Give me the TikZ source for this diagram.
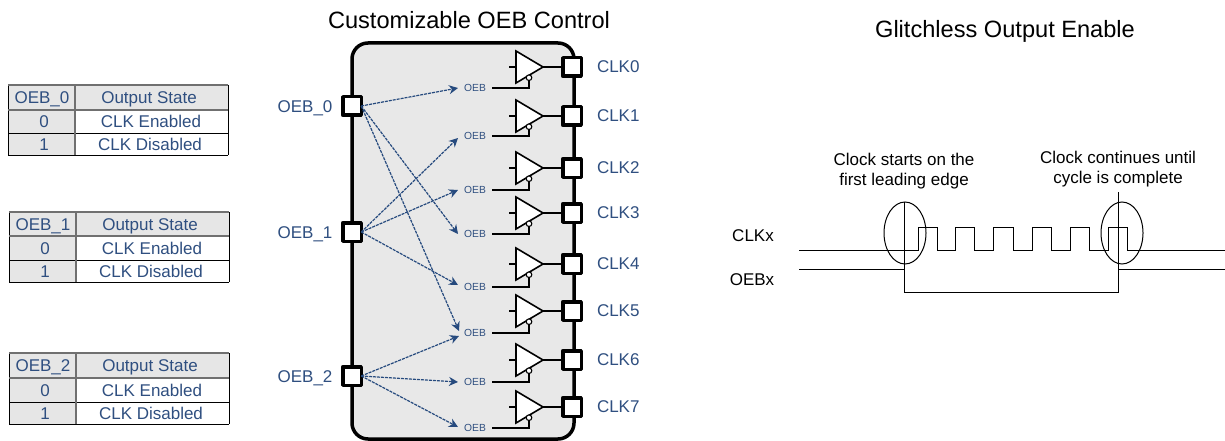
\documentclass[tikz,border=0pt]{standalone}
\usepackage{fontspec}
\setmainfont{Liberation Sans}
\usetikzlibrary{arrows.meta,calc}
\definecolor{txtblue}{HTML}{2F4F80}
\definecolor{arrblue}{HTML}{264A7E}
\definecolor{panel}{HTML}{E8E8E8}
\definecolor{tabgray}{HTML}{E6E6E6}
\definecolor{gridgray}{HTML}{707070}
\newcommand{\fs}[1]{\fontsize{#1}{#1}\selectfont}
\tikzset{
 x=1pt,y=-1pt,
 every node/.style={inner sep=0pt,outer sep=0pt,font=\fs{17}},
 pinbox/.style={draw=black,fill=white,line width=3.5pt,minimum size=18.5pt,line join=round},
 pinlabel/.style={text=txtblue,font=\fs{17},text height=12.2pt,text depth=0pt},
 oeblabel/.style={text=txtblue,font=\fs{10.3},minimum width=34pt,minimum height=10pt,text height=7.4pt,text depth=0pt},
 link/.style={draw=arrblue,line width=1.2pt,dash pattern=on 3pt off 1pt,-{Stealth[length=9pt,width=9pt]}},
 buffer/.style={draw=black,fill=white,line width=1.6pt,line join=miter},
 wire/.style={draw=black,line width=1.3pt},
 thickwire/.style={draw=black,line width=1.6pt},
 cell/.style={text=txtblue,font=\fs{17},anchor=center,text height=12.2pt,text depth=0pt},
 title/.style={text=black,font=\fs{23.6}},
 note/.style={text=black,font=\fs{17},align=center},
 sig/.style={draw=black,line width=1pt},
 loop/.style={draw=black,line width=1pt},
}
\begin{document}
\begin{tikzpicture}
\useasboundingbox (0,0) rectangle (1225,441);
\fill[white] (0,0) rectangle (1225,441);
% titles
\node[title] (t1) at (469,20) {Customizable OEB Control};
\node[title] (t2) at (1005,31) {Glitchless Output Enable};
% tables
\foreach \n/\o/\a/\b/\c/\d in {0/0/85/110/133/155, 1/1/212/236/260/282, 2/1/353/378/402/424}{
 \begin{scope}[xshift=\o pt]
  \fill[tabgray] (8,\a) rectangle (228,\b);
  \fill[tabgray] (8,\b) rectangle (75,\d);
  \draw[black,line width=0.9pt] (8,\c) -- (228,\c);
  \draw[black,line width=0.9pt] (8,\d) -- (228,\d);
  \draw[black,line width=0.9pt] (8,\a) -- (8,\d);
  \draw[black,line width=0.9pt] (228,\a) -- (228,\d);
  \draw[gridgray,line width=1.2pt] (8,\a) -- (228,\a);
  \draw[gridgray,line width=1.2pt] (8,\b) -- (228,\b);
  \draw[gridgray,line width=1.2pt] (75,\a) -- (75,\d);
  \node[cell] (h\n a) at (42,{(\a+\b)/2}) {OEB\_\n};
  \node[cell] (h\n b) at (149,{(\a+\b)/2}) {Output State};
  \node[cell] (r\n a) at (44,{(\b+\c)/2}) {0};
  \node[cell] (r\n b) at (151,{(\b+\c)/2}) {CLK Enabled};
  \node[cell] (s\n a) at (44,{(\c+\d)/2}) {1};
  \node[cell] (s\n b) at (150,{(\c+\d)/2}) {CLK Disabled};
 \end{scope}
}
% panel
\draw[line width=3.5pt,fill=panel,rounded corners=16pt] (352,43) rectangle (574,439);
% input labels and pins
\foreach \n/\y in {0/106,1/232,2/376}{
  \node[pinbox] (in\n) at (352,\y) {};
  \node[pinlabel] (inl\n) at (305,\y) {OEB\_\n};
}
% buffers
\foreach \n/\y/\e in {0/67/88,1/116/136,2/168/190,3/213/234,4/264/287,5/311/333,6/360/382,7/407/428}{
  \node[pinbox] (clk\n) at (572,\y) {};
  \node[pinlabel,anchor=west] (clkl\n) at (597,\y-0.5) {CLK\n};
  \node[oeblabel] (oeb\n) at (475,\e) {OEB};
  \coordinate (tip\n) at (543,\y);
  \coordinate (inp\n) at (509,\y);
  \coordinate (en\n) at (529,\y+13);
  \draw[wire] (tip\n) -- (clk\n.west);
  \draw[wire] (inp\n) -- (516,\y);
  \draw[thickwire] (oeb\n.east) -| (en\n);
  \draw[buffer] (516,\y-16) -- (tip\n) -- (516,\y+16) -- cycle;
  \draw[black,fill=white,line width=1.1pt] (529,\y+10.7) circle[radius=2.8];
}
% links
\draw[link] (in0.east) -- (oeb0.west);
\draw[link] (in0.east) -- (oeb3.west);
\draw[link] (in0.east) -- ($(oeb5.west)+(1,-2)$);
\draw[link] (in1.east) -- ($(oeb1.west)+(0,2)$);
\draw[link] (in1.east) -- (oeb2.west);
\draw[link] (in1.east) -- ($(oeb4.west)+(0,-2)$);
\draw[link] (in2.east) -- ($(oeb5.west)+(1,3)$);
\draw[link] (in2.east) -- (oeb6.west);
\draw[link] (in2.east) -- ($(oeb7.west)+(0,-1)$);
% timing diagram
\node[note,text=black] (clkx) at (753,236) {CLKx};
\node[note,text=black] (oebx) at (752,280) {OEBx};
\node[note] (n1) at (904,171) {Clock starts on the\\[3pt]first leading edge};
\node[note] (n2) at (1118,169) {Clock continues until\\[3pt]cycle is complete};
\draw[sig] (799,250) -- (918,250) -- (918,227) -- (937,227) -- (937,250)
  -- (955,250) -- (955,227) -- (974,227) -- (974,250)
  -- (993,250) -- (993,227) -- (1013,227) -- (1013,250)
  -- (1032,250) -- (1032,227) -- (1051,227) -- (1051,250)
  -- (1070,250) -- (1070,227) -- (1089,227) -- (1089,250)
  -- (1108,250) -- (1108,227) -- (1127,227) -- (1127,250) -- (1225,250);
\draw[sig] (799,269) -- (904,269);
\draw[sig] (904,202) -- (904,292) -- (1118,292) -- (1118,192);
\draw[sig] (1118,269) -- (1225,269);
\draw[loop] (905,233) ellipse[x radius=21,y radius=31];
\draw[loop] (1122,233) ellipse[x radius=21,y radius=31];
\end{tikzpicture}
\end{document}
